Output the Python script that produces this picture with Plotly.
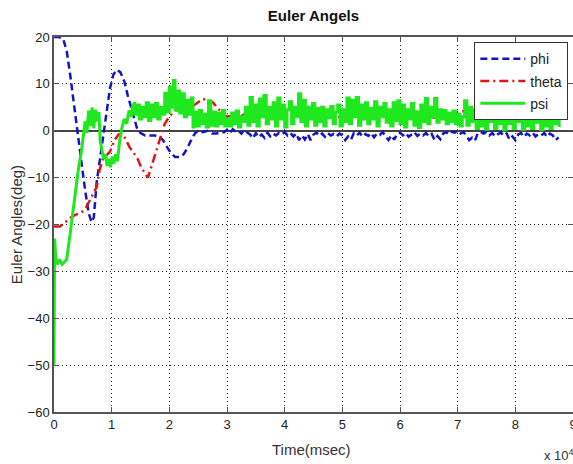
import plotly.graph_objects as go

# ---------------- data (time in msec) ----------------
# phi: transient (explicit times) + steady part sampled every 500 msec
t_phi_tr = [0, 800, 1600, 2200, 2800, 3400, 3900, 4200, 4500, 5000, 5500, 6000, 6500,
            6900, 7400, 8200, 8800, 9700, 10300, 10900, 11500, 12200, 12800, 13400,
            14000, 14400, 15000, 15800, 16600, 17400, 18200, 18900, 19600, 20300,
            21000, 21800, 22500, 23200, 24000, 24500, 25000, 25800, 26600, 27400,
            28200, 29000]
phi_tr = [20, 20, 19.6, 17, 12, 6, 1.5, -1.5, -4.5, -9, -13.5, -17.5, -19.5,
          -18.5, -11, -4, 2, 9, 12, 13, 12.5, 10.5, 7.5, 5,
          2, 0.5, -0.5, -1, -1, -1, -1.2, -2, -3.5, -4.8,
          -5.6, -5.6, -5, -3.5, -1.4, -0.5, 0, -0.3, 0, -0.6,
          -0.6, -0.3]
t_phi_ss = list(range(29500, 87501, 500))
phi_ss = [-0.3, 0.2, -0.5, 0.3, -0.2, 0.0, -0.6, 0.2, -0.4, -0.8,
          -1.6, -0.5, -1.4, -0.8, -1.5, -0.4, -1.2, -0.6, -1.0, -0.5,
          -0.8, -0.3, -1.0, -0.5, -1.2, -0.6, -2.0, -1.0, -1.9, -0.7,
          -2.0, -0.8, -0.4, -1.1, -0.6, -1.3, -0.5, -1.0, -0.7, -1.2,
          -0.6, -1.0, -2.0, -1.2, -1.9, -0.5, -1.0, -0.4, -1.3, -0.7,
          -1.1, -0.5, -1.4, -0.6, -0.9, -0.3, -1.2, -2.0, -1.0, -1.9,
          -0.6, -0.4, -1.0, -0.5, -1.3, -0.7, -0.3, -1.1, -0.6, -1.0,
          -0.5, -1.2, -0.7, -2.0, -1.1, -1.8, -0.6, -0.3, -0.8, -0.2,
          -0.4, 0.0, -0.6, -0.3, -1.0, -2.0, -1.5, -2.1, -0.5, -0.3,
          -0.6, -0.2, -1.0, -0.5, -1.2, -0.7, -0.4, -1.1, -0.6, -1.9,
          -1.2, -2.0, -0.8, -0.5, -1.3, -0.6, -1.0, -0.4, -1.2, -0.7,
          -1.0, -0.5, -1.3, -0.6, -1.0, -2.0, -1.4]

# theta
t_theta_tr = [0, 1000, 1500, 2500, 3000, 4000, 4800, 5600, 6500, 7400, 7900, 8500,
              9700, 10500, 11200, 11700, 12300, 13100, 13700, 14500, 15200, 15800,
              16300, 16800, 17300, 17800, 18500, 19200, 20000, 21000, 22000, 23000,
              24000, 24700, 25800, 26500, 27600, 28400, 29300, 30000]
theta_tr = [-20.4, -20.4, -20, -19, -18.4, -17.8, -17.4, -16.3, -14.1, -12, -8.4, -5.9,
            -4.5, -2, -0.8, -0.7, -1.5, -3.5, -4.5, -6, -8, -9.2,
            -10, -8, -6, -4, -1, 1.5, 3, 4.3, 4.5, 4.5,
            5.2, 5.8, 6.8, 6.6, 6, 4.8, 3.6, 3.0]
t_theta_ss = list(range(31000, 87001, 1000))
theta_ss = [3.3, 2.8, 3.5, 3.0, 2.6, 3.4, 3.1, 2.7, 3.6, 3.0,
            2.9, 3.3, 3.8, 4.2, 3.2, 2.8, 3.4, 3.0, 2.6, 3.3,
            3.1, 2.7, 3.5, 3.0, 3.3, 4.8, 5.0, 3.4, 2.9, 3.2,
            3.0, 3.4, 4.2, 3.6, 3.0, 2.8, 3.3, 3.1, 3.2, 4.0,
            4.2, 3.6, 3.0, 2.7, 3.2, 2.9, 3.3, 3.0, 2.8, 3.2,
            3.0, 2.7, 3.3, 3.1, 2.8, 3.2, 3.0]

# psi: initial transient (smooth) ...
t_psi_tr = [0, 100, 300, 600, 1000, 1400, 1800, 2200, 2800, 3500, 4200, 4800, 5100,
            5400, 5700, 6000, 6300, 6600, 6900, 7200, 7500, 7800, 8000, 8300, 8600,
            8900, 9200, 9500, 9800, 10100, 10400, 10700, 11000, 11400, 11800, 12200,
            12600, 13000, 13400, 13700]
psi_tr = [-50, -23, -27, -28.5, -27.5, -28.5, -28, -27.5, -22, -15, -8.5, -4, -1,
          2, -0.5, 4.3, 1, 5, 0.5, 4.5, 2, 4, -2, -4.5, -6,
          -5, -7.5, -6, -7.8, -5.5, -7, -5, -6.5, -2, 0.8, 2.5,
          1.5, 4.3, 3, 5.8]
# ... then noisy, stair-stepped samples
t_psi_mid = [13700, 14000, 14400, 14800, 15200, 15600, 16000,
             16400, 16800, 17200, 17600, 18000, 18400, 18800, 19200, 19600, 20000,
             20400, 20700, 21000, 21400, 21800, 22200, 22600, 23000, 23400, 23800,
             24100, 24400, 24800, 25200, 25600, 26000, 26400, 26800, 27200, 27600,
             28000, 28400, 28800, 29200, 29600]
psi_mid = [5.8, 3.5, 5.5, 2.5, 5, 3, 6,
           2.2, 5.5, 3, 5.8, 2.5, 5, 3.5, 8, 4, 9.3,
           5, 10.7, 4.5, 8.5, 3.8, 7.9, 3, 6.5, 3.5, 7,
           0.8, 4, 1, 4.3, 1.5, 3.5, 0.8, 6.4, 1.2, 4,
           1, 3.8, 1.5, 4.3, 1.0]
t_psi_ss = list(range(30000, 87601, 400))
psi_ss = [2.5, 1.0, 3.8, 1.5, 4.2, 0.8, 3.0, 2.0, 5.0, 1.2,
          7.1, 2.0, 5.5, 1.0, 6.8, 3.0, 7.5, 1.5, 5.0, 2.5,
          6.0, 1.0, 7.0, 2.5, 5.5, 0.8, 4.5, 6.2, 1.5, 5.0,
          3.0, 7.9, 2.0, 6.5, 1.0, 5.0, 2.5, 5.8, 1.2, 4.8,
          2.0, 5.0, 1.0, 4.5, 2.8, 5.2, 1.5, 4.0, 5.5, 1.0,
          4.5, 2.0, 7.0, 1.5, 6.5, 3.0, 7.1, 1.2, 5.5, 2.5,
          6.0, 1.5, 4.8, 2.5, 6.2, 1.0, 5.0, 3.0, 5.8, 1.8,
          4.5, 1.0, 6.0, 2.2, 6.4, 1.5, 5.5, 0.8, 4.5, 2.5,
          5.8, 1.2, 4.0, 0.7, 5.5, 2.0, 6.9, 1.5, 5.0, 3.0,
          6.9, 1.8, 4.5, 2.5, 4.3, 1.5, 3.8, 2.0, 4.2, 1.5,
          3.5, 1.0, 3.0, 6.4, 1.2, 5.0, 2.0, 4.5, 0.5, 3.8,
          1.0, 5.0, 0.3, 4.0, 2.0, 5.2, 0.5, 3.5, 1.5, 4.8,
          0.2, 4.0, 1.5, 5.0, 0.5, 3.6, 2.0, 4.5, 0.3, 3.8,
          1.0, 5.0, 0.5, 3.5, 1.8, 4.6, 0.2, 4.0, 1.0, 5.0,
          0.5, 3.8, 1.5, 4.2, 0.8]

x_tickvals = [0, 10000, 20000, 30000, 40000, 50000, 60000, 70000, 80000, 90000]
x_ticktext = ["0", "1", "2", "3", "4", "5", "6", "7", "8", "9"]
y_tickvals = [-60, -50, -40, -30, -20, -10, 0, 10, 20]

# ---------------- figure ----------------
FONT = "Liberation Sans, Arial, sans-serif"
BLUE, RED, GREEN = "#1414C4", "#E01414", "#1FE81F"
fig = go.Figure()
fig.add_trace(go.Scatter(x=t_phi_tr + t_phi_ss, y=phi_tr + phi_ss, mode="lines", name="phi",
                         legendgroup="phi",
                         line=dict(color=BLUE, width=2.5, dash="7px,4px")))
fig.add_trace(go.Scatter(x=t_theta_tr + t_theta_ss, y=theta_tr + theta_ss, mode="lines", name="theta",
                         legendgroup="theta",
                         line=dict(color=RED, width=2.5, dash="9px,4px,2px,4px")))
fig.add_trace(go.Scatter(x=t_psi_tr, y=psi_tr, mode="lines", name="psi", legendgroup="psi",
                         line=dict(color=GREEN, width=3)))
fig.add_trace(go.Scatter(x=t_psi_mid + t_psi_ss, y=psi_mid + psi_ss, mode="lines", name="psi",
                         legendgroup="psi", showlegend=False,
                         line=dict(color=GREEN, width=3, shape="hv")))

axis_common = dict(showline=True, linecolor="#555555", linewidth=1.5, mirror="ticks",
                   ticks="inside", ticklen=5, tickcolor="#555555", tickwidth=1,
                   showgrid=True, gridcolor="#222222", gridwidth=1, griddash="1px,3px",
                   tickfont=dict(family=FONT, size=13, color="#222222"))

fig.update_xaxes(range=[0, 90000], tickvals=x_tickvals, ticktext=x_ticktext,
                 zeroline=False, automargin=False, ticklabeloverflow="allow", **axis_common)
fig.update_yaxes(range=[-60, 20], tickvals=y_tickvals, zeroline=True,
                 zerolinecolor="#444444", zerolinewidth=1.5, automargin=False, **axis_common)

fig.update_layout(
    width=573, height=464,
    margin=dict(l=54, r=0, t=37, b=52),
    paper_bgcolor="white", plot_bgcolor="white",
    font=dict(family=FONT, size=13, color="#222222"),
    title=dict(text="<b>Euler Angels</b>", x=0.547, xanchor="center", y=0.967, yanchor="middle",
               font=dict(family=FONT, size=15, color="#111111")),
    showlegend=True,
    legend=dict(x=0.991, xanchor="right", y=0.986, yanchor="top",
                bgcolor="white", bordercolor="#333333", borderwidth=1,
                font=dict(family=FONT, size=14, color="#222222"),
                itemwidth=45, tracegroupgap=1),
    annotations=[
        dict(text="Time(msec)", xref="paper", yref="paper", x=0.497, y=-0.1,
             xanchor="center", yanchor="middle", showarrow=False,
             font=dict(family=FONT, size=15, color="#333333")),
        dict(text="Euler Angles(deg)", xref="paper", yref="paper", x=-0.072, y=0.5,
             xanchor="center", yanchor="middle", textangle=-90, showarrow=False,
             font=dict(family=FONT, size=15, color="#333333")),
        dict(text="x 10<sup>4</sup>", xref="paper", yref="paper", x=0.94, y=-0.115,
             xanchor="left", yanchor="middle", showarrow=False,
             font=dict(family=FONT, size=13, color="#333333")),
    ],
)

fig.write_html("out.html")
